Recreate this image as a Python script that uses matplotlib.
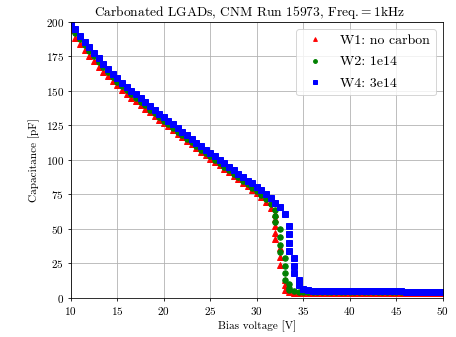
import matplotlib
matplotlib.use('Agg')
import matplotlib.pyplot as plt

plt.rcParams['font.family'] = 'serif'
plt.rcParams['font.serif'] = ['cmr10']
plt.rcParams['mathtext.fontset'] = 'cm'
plt.rcParams['axes.formatter.use_mathtext'] = True
plt.rcParams['font.size'] = 11.3

# bias sweep (V)
bias = [10.0, 10.5, 11.0, 11.5, 12.0, 12.5, 13.0, 13.5, 14.0, 14.5,
        15.0, 15.5, 16.0, 16.5, 17.0, 17.5, 18.0, 18.5, 19.0, 19.5,
        20.0, 20.5, 21.0, 21.5, 22.0, 22.5, 23.0, 23.5, 24.0, 24.5,
        25.0, 25.5, 26.0, 26.5, 27.0, 27.5, 28.0, 28.5, 29.0, 29.5,
        30.0, 30.5, 31.0, 31.5, 32.0, 32.5, 33.0, 33.5, 34.0, 34.5,
        35.0, 35.5, 36.0, 36.5, 37.0, 37.5, 38.0, 38.5, 39.0, 39.5,
        40.0, 40.5, 41.0, 41.5, 42.0, 42.5, 43.0, 43.5, 44.0, 44.5,
        45.0, 45.5, 46.0, 46.5, 47.0, 47.5, 48.0, 48.5, 49.0, 49.5,
        50.0]

# capacitance (pF) at each bias step
w1_cap = [194, 188.5, 184, 179.5, 175.5, 171.5, 167.5, 164, 160.5, 157,
          154, 151, 148, 145, 142.5, 139.5, 137, 134.5, 132, 129,
          127, 124.5, 122, 119, 116.5, 114, 111.5, 108.5, 106, 103.5,
          101, 98.5, 96, 93.5, 91, 88.5, 86, 83.5, 81, 78.5,
          76, 73, 69.5, 65.5, 61, 36, 13, 4.5, 3.9, 3.7,
          3.6, 3.6, 3.6, 3.6, 3.6, 3.6, 3.6, 3.6, 3.6, 3.6,
          3.5, 3.5, 3.5, 3.5, 3.5, 3.5, 3.5, 3.5, 3.5, 3.5,
          3.5, 3.5, 3.5, 3.5, 3.5, 3.5, 3.5, 3.5, 3.5, 3.5,
          3.5]
w2_cap = [197, 192, 187.5, 183, 179, 175, 171, 167, 163.5, 160,
          156.5, 153.5, 150.5, 147.5, 145, 142, 139.5, 136.5, 134, 131,
          128.5, 126, 123.3, 120.5, 118, 115.5, 112.7, 110, 107.5, 105,
          102.5, 100, 97.5, 95, 92.5, 90, 87.5, 85, 82.5, 80,
          77.5, 74.5, 71.5, 68, 64, 50, 29, 10, 4.8, 4.4,
          4.3, 4.2, 4.2, 4.2, 4.1, 4.1, 4.1, 4.1, 4.1, 4.1,
          4.0, 4.0, 4.0, 4.0, 4.0, 4.0, 4.0, 4.0, 4.0, 4.0,
          4.0, 4.0, 4.0, 4.0, 4.0, 4.0, 4.0, 4.0, 4.0, 4.0,
          4.0]
w4_cap = [199, 194.5, 190, 185.5, 181.5, 177.5, 173.5, 169.5, 166, 162.5,
          159, 156, 153, 150, 147.5, 144.5, 142, 139, 136.5, 133.5,
          131, 128.5, 125.8, 123, 120.5, 118, 115.2, 112.5, 110, 107.5,
          105, 102.5, 100, 97.5, 95, 92.5, 90, 87.5, 85, 83,
          80.5, 78, 75.5, 72.5, 69, 66, 61, 52, 29, 13,
          6.5, 5.5, 5.2, 5.1, 5.0, 5.0, 5.0, 4.9, 4.9, 4.9,
          4.9, 4.8, 4.8, 4.8, 4.8, 4.8, 4.7, 4.7, 4.7, 4.7,
          4.7, 4.7, 4.6, 4.6, 4.6, 4.6, 4.6, 4.6, 4.6, 4.6,
          4.6]

# repeated readings around breakdown
w1_drop_v = [32.0, 32.0, 32.0, 32.0, 32.5, 32.5, 33.0, 33.0]
w1_drop_c = [57, 52, 47, 43, 30, 24, 9, 6]
w2_drop_v = [32.0, 32.0, 32.5, 32.5, 32.5, 33.0, 33.0, 33.0, 33.5, 33.5]
w2_drop_c = [59, 55, 44, 38, 33, 23, 18, 13, 7, 5.5]
w4_drop_v = [33.5, 33.5, 33.5, 34.0, 34.0, 34.5]
w4_drop_c = [46, 40, 34, 23, 18, 9]

fig = plt.figure(figsize=(6.4, 4.72), dpi=71.4)
ax = fig.add_axes([0.155, 0.116, 0.814, 0.819])

ax.plot(bias + w1_drop_v, w1_cap + w1_drop_c, '^', color='red', ms=5.5,
        label='W1: no carbon')
ax.plot(bias + w2_drop_v, w2_cap + w2_drop_c, 'o', color='green', ms=5.5,
        label='W2: 1e14')
ax.plot(bias + w4_drop_v, w4_cap + w4_drop_c, 's', color='blue', ms=6.2,
        label='W4: 3e14')

ax.set_xlim(10, 50)
ax.set_ylim(0, 200)
ax.set_xticks(range(10, 51, 5))
ax.set_yticks(range(0, 201, 25))
ax.grid(True)
ax.set_xlabel('Bias voltage [V]')
ax.set_ylabel('Capacitance [pF]', labelpad=6)
ax.set_title('Carbonated LGADs, CNM Run 15973, Freq.$=$1kHz', x=0.48)
ax.legend(loc='upper right', fontsize=14, markerscale=0.7, labelspacing=0.62)

fig.savefig('out.png', dpi=71.4)
